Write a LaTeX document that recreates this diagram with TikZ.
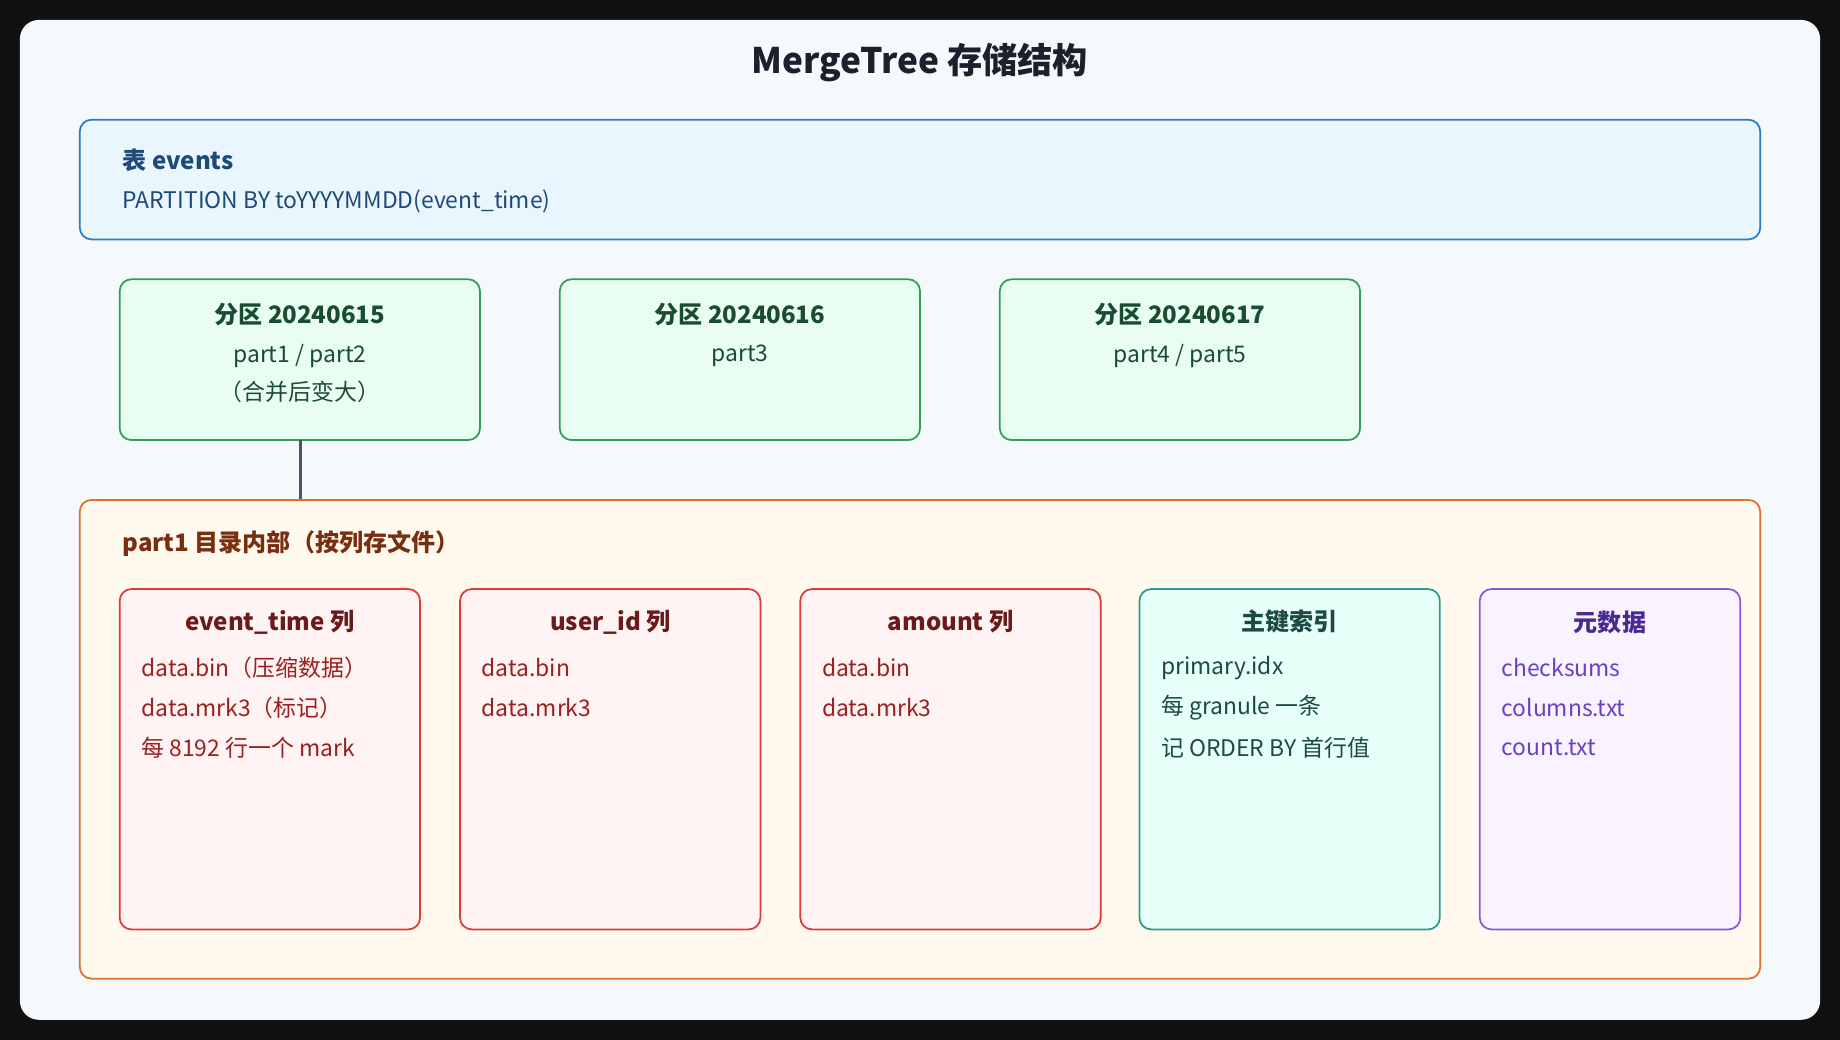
\documentclass[tikz,border=0pt]{standalone}
\usepackage{fontspec}
\setmainfont{Noto Sans CJK SC}
\begin{document}
\begin{tikzpicture}[x=1pt,y=-1pt,
  box/.style={draw,rounded corners=10pt,line width=1.5pt},
  ttl/.style={font=\bfseries\fontsize{20.5}{24}\selectfont,anchor=center},
  txt/.style={font=\fontsize{19.5}{23}\selectfont,anchor=west}]
\definecolor{tb}{HTML}{1E4A7A}\definecolor{gr}{HTML}{1A4D30}
\definecolor{or}{HTML}{7A2E10}
\fill[fill={rgb,255:red,17;green,17;blue,17}] (0,0) rectangle (1568,886);
\useasboundingbox (0,0) rectangle (1568,886);
\node[fill={rgb,255:red,245;green,249;blue,252},rounded corners=16pt,minimum width=1534pt,minimum height=852pt,inner sep=0] (card) at (784,443) {};
\node[font=\bfseries\fontsize{30}{36}\selectfont,text={rgb,255:red,26;green,32;blue,44}] (title) at (784,53) {MergeTree 存储结构};
% table
\draw[box,draw={rgb,255:red,42;green,123;blue,200},fill={rgb,255:red,234;green,246;blue,253}] (68,102) rectangle (1500,204);
\node[ttl,anchor=west,text=tb] (t1) at (101,137) {表 events};
\node[txt,text=tb] (t2) at (101,172) {PARTITION BY toYYYYMMDD(event\_time)};
% partitions
\foreach \x/\n/\a/\b [count=\i] in {102/20240615/{part1 / part2}/（合并后变大）,477/20240616/part3/,852/20240617/{part4 / part5}/}{
  \draw[box,draw={rgb,255:red,46;green,158;blue,94},fill={rgb,255:red,234;green,253;blue,242}] (\x,238) rectangle ++(307,137);
  \node[ttl,text=gr] (p\i) at (\x+153.5,268) {分区 \n};
  \node[txt,anchor=center,text=gr] (pa\i) at (\x+153.5,303) {\a};
  \node[txt,anchor=center,text=gr] (pb\i) at (\x+153.5,334) {\b};
}
\coordinate (c1) at (256,375);
\coordinate (c2) at (256,426);
\draw[line width=3pt,draw={rgb,255:red,74;green,85;blue,104}] (c1) -- (c2);
% part box
\draw[box,draw={rgb,255:red,224;green,112;blue,48},fill={rgb,255:red,255;green,249;blue,238}] (68,426) rectangle (1500,834);
\node[ttl,anchor=west,text=or] (pt) at (101,463) {part1 目录内部（按列存文件）};
% columns
\foreach \x/\w/\dc/\fc/\tc/\lc/\t/\la/\lb/\lz [count=\i] in {
 102/256/E03A3A/FFF3F3/6B1A1A/9B2020/event\_time 列/data.bin（压缩数据）/data.mrk3（标记）/每 8192 行一个 mark,
 392/256/E03A3A/FFF3F3/6B1A1A/9B2020/user\_id 列/data.bin/data.mrk3/,
 682/256/E03A3A/FFF3F3/6B1A1A/9B2020/amount 列/data.bin/data.mrk3/,
 971/256/2A9D8F/E6FFF8/1D4A44/1D4A44/主键索引/primary.idx/每 granule 一条/记 ORDER BY 首行值,
 1261/222/8A5AD8/F8F3FF/4A2A90/6B3FC0/元数据/checksums/columns.txt/count.txt}{
  \definecolor{dcol}{HTML}{\dc}\definecolor{fcol}{HTML}{\fc}\definecolor{tcol}{HTML}{\tc}\definecolor{lcol}{HTML}{\lc}
  \draw[box,draw=dcol,fill=fcol] (\x,502) rectangle ++(\w,290);
  \node[ttl,text=tcol] (k\i) at (\x+\w/2,530) {\t};
  \node[txt,text=lcol] (ka\i) at (\x+15,569) {\la};
  \node[txt,text=lcol] (kb\i) at (\x+15,603) {\lb};
  \node[txt,text=lcol] (kc\i) at (\x+15,637) {\lz};
}
\end{tikzpicture}
\end{document}
